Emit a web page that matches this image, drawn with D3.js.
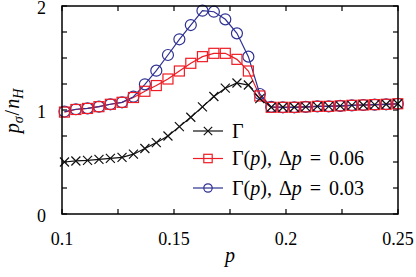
<!DOCTYPE html>
<html><head><meta charset="utf-8">
<script src="https://cdn.jsdelivr.net/npm/d3@7"></script>
</head><body style="margin:0">
<svg id="c" width="416" height="277" style="font-family:'Liberation Serif',serif"></svg>
<script>
const pValues = [0.1011,0.1062,0.1114,0.1165,0.1216,0.1268,0.1319,0.1370,0.1421,0.1473,
  0.1524,0.1575,0.1627,0.1678,0.1729,0.1781,0.1832,0.1883,0.1934,0.1986,
  0.2037,0.2088,0.2140,0.2191,0.2242,0.2294,0.2345,0.2396,0.2447,0.2499];
const gammaConst = [0.50,0.51,0.515,0.525,0.535,0.545,0.575,0.63,0.686,0.75,
  0.84,0.93,1.03,1.13,1.21,1.26,1.24,1.11,1.026,1.026,
  1.026,1.03,1.035,1.035,1.04,1.045,1.048,1.052,1.055,1.06];
const gammaDp006 = [0.98,1.005,1.015,1.032,1.055,1.074,1.12,1.18,1.235,1.298,
  1.375,1.449,1.513,1.545,1.545,1.487,1.375,1.135,1.026,1.026,
  1.026,1.03,1.035,1.035,1.04,1.045,1.048,1.052,1.055,1.06];
const gammaDp003 = [0.985,1.007,1.016,1.032,1.055,1.074,1.128,1.247,1.378,1.529,
  1.68,1.817,1.955,1.945,1.872,1.737,1.513,1.154,1.03,1.026,
  1.026,1.03,1.035,1.035,1.04,1.045,1.048,1.052,1.055,1.06];
const xTickLabels = ["0.1","0.15","0.2","0.25"];
const yTickLabels = ["0","1","2"];
const legendLabels = ["Γ","Γ(p), Δp = 0.06","Γ(p), Δp = 0.03"];

const FONT = '"Liberation Serif", serif';
const svg = d3.select("#c");
const L = 62, R = 398, T = 6, B = 214;
const x = d3.scaleLinear().domain([0.1, 0.25]).range([L, R]);
const y = d3.scaleLinear().domain([0, 2]).range([B, T]);
const RED = "#ee1c24", BLUE = "#2e3192";

const series = [
  {vals: gammaConst, color: "#111", marker: "cross"},
  {vals: gammaDp006, color: RED, marker: "square"},
  {vals: gammaDp003, color: BLUE, marker: "circle"}
];

const xt = d3.range(0.1, 0.2501, 0.025);
const yt = d3.range(0, 2.001, 0.25);
const tk = 5;
const g = svg.append("g").attr("stroke", "#000").attr("stroke-width", 1.2);
xt.forEach(v => {
  g.append("line").attr("x1", x(v)).attr("x2", x(v)).attr("y1", B).attr("y2", B - tk);
  g.append("line").attr("x1", x(v)).attr("x2", x(v)).attr("y1", T).attr("y2", T + tk);
});
yt.forEach(v => {
  g.append("line").attr("y1", y(v)).attr("y2", y(v)).attr("x1", L).attr("x2", L + tk);
  g.append("line").attr("y1", y(v)).attr("y2", y(v)).attr("x1", R).attr("x2", R - tk);
});

function txt(sel) { return sel.append("text").style("font-family", FONT); }

xTickLabels.forEach(s => {
  txt(svg).attr("x", x(+s)).attr("y", 245).attr("text-anchor", "middle")
    .style("font-size", "18px").text(s);
});
yTickLabels.forEach(s => {
  txt(svg).attr("x", 46).attr("y", y(+s) + 8).attr("text-anchor", "end")
    .style("font-size", "18px").text(s);
});

function drawMarker(sel, type, cx, cy, color, s) {
  if (type === "cross") {
    sel.append("path").attr("d", `M${cx-s},${cy-s}L${cx+s},${cy+s}M${cx-s},${cy+s}L${cx+s},${cy-s}`)
      .attr("stroke", color).attr("stroke-width", 1.2).attr("fill", "none");
  } else if (type === "square") {
    sel.append("rect").attr("x", cx - s).attr("y", cy - s).attr("width", 2*s).attr("height", 2*s)
      .attr("stroke", color).attr("stroke-width", 1.2).attr("fill", "none");
  } else {
    sel.append("circle").attr("cx", cx).attr("cy", cy).attr("r", s)
      .attr("stroke", color).attr("stroke-width", 1.2).attr("fill", "none");
  }
}

const line = d3.line().x((d, i) => x(pValues[i])).y(d => y(d));
series.forEach(s => {
  svg.append("path").attr("d", line(s.vals)).attr("fill", "none")
    .attr("stroke", s.color).attr("stroke-width", 1.2);
});
[2, 1, 0].forEach(k => {
  const s = series[k];
  const mg = svg.append("g");
  s.vals.forEach((v, i) => drawMarker(mg, s.marker, x(pValues[i]), y(v), s.color,
    s.marker === "circle" ? 5.5 : (s.marker === "square" ? 5 : 4.5)));
});

svg.append("rect").attr("x", L).attr("y", T).attr("width", R - L).attr("height", B - T)
  .attr("fill", "none").attr("stroke", "#000").attr("stroke-width", 1.5);

const legY = [131, 158.5, 188];
series.forEach((s, k) => {
  svg.append("line").attr("x1", 193).attr("x2", 223).attr("y1", legY[k]).attr("y2", legY[k])
    .attr("stroke", s.color).attr("stroke-width", 1.2);
  drawMarker(svg, s.marker, 208, legY[k], s.color, 4.2);
  const t = txt(svg).attr("x", 232).attr("y", legY[k] + 6.5).style("font-size", "20px");
  const lab = legendLabels[k];
  if (k === 0) { t.text(lab); }
  else {
    t.append("tspan").text("Γ(");
    t.append("tspan").style("font-style", "italic").text("p");
    t.append("tspan").text("),");
    t.append("tspan").attr("dx", 7).text("Δ");
    t.append("tspan").style("font-style", "italic").text("p");
    t.append("tspan").attr("dx", 8).text("=");
    t.append("tspan").attr("dx", 8).text(lab.split("= ")[1]);
  }
});

txt(svg).attr("x", 230).attr("y", 262).attr("text-anchor", "middle")
  .style("font-size", "20px").style("font-style", "italic").text("p");
const yl = txt(svg).attr("transform", "translate(19,111) rotate(-90)")
  .attr("text-anchor", "middle").style("font-size", "20px");
yl.append("tspan").style("font-style", "italic").text("p");
yl.append("tspan").style("font-size", "14px").attr("dy", 4).style("font-style", "italic").text("σ");
yl.append("tspan").attr("dy", -4).attr("dx", 1).text("/");
yl.append("tspan").attr("dx", 1).style("font-style", "italic").text("n");
yl.append("tspan").style("font-size", "14px").attr("dy", 4).style("font-style", "italic").text("H");
</script>
</body></html>
